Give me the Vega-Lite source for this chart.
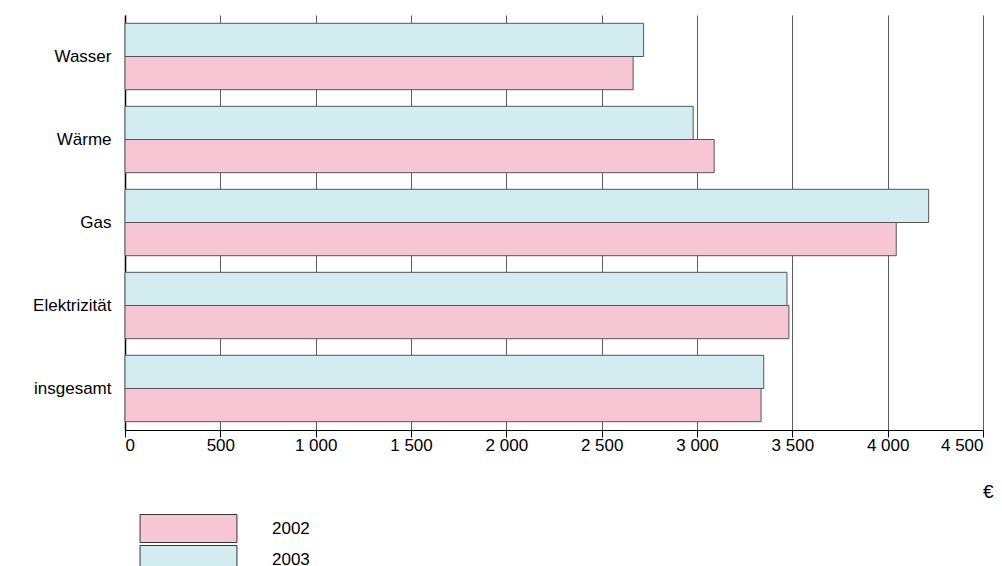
{
  "$schema": "https://vega.github.io/schema/vega-lite/v6.json",
  "width": 858, "height": 415,
  "autosize": "none",
  "padding": {"left": 125, "top": 15, "right": 19, "bottom": 136},
  "background": "white",
  "config": {"font": "Liberation Sans", "view": {"stroke": null}},
  "data": {"values": [
    {"cat": "Wasser", "year": "2003", "value": 2720},
    {"cat": "Wasser", "year": "2002", "value": 2665},
    {"cat": "Wärme", "year": "2003", "value": 2980},
    {"cat": "Wärme", "year": "2002", "value": 3090},
    {"cat": "Gas", "year": "2003", "value": 4215},
    {"cat": "Gas", "year": "2002", "value": 4045},
    {"cat": "Elektrizität", "year": "2003", "value": 3472},
    {"cat": "Elektrizität", "year": "2002", "value": 3482},
    {"cat": "insgesamt", "year": "2003", "value": 3350},
    {"cat": "insgesamt", "year": "2002", "value": 3336}
  ]},
  "mark": {"type": "bar", "stroke": "#555555", "strokeWidth": 1},
  "encoding": {
    "y": {"field": "cat", "type": "nominal", "sort": null,
      "scale": {"paddingInner": 0.2, "paddingOuter": 0.1},
      "axis": {"title": null, "labelFontSize": 17, "labelColor": "black", "domainColor": "black", "labelPadding": 14, "ticks": false, "domainWidth": 1.5}},
    "yOffset": {"field": "year", "sort": ["2003", "2002"]},
    "x": {"field": "value", "type": "quantitative",
      "scale": {"domain": [0, 4500], "nice": false},
      "axis": {"values": [0,500,1000,1500,2000,2500,3000,3500,4000,4500], "format": ",d",
        "labelExpr": "replace(datum.label, ',', ' ')",
        "grid": true, "gridColor": "#333333", "gridWidth": 0.8,
        "domainColor": "black", "tickColor": "black", "tickSize": 7, "labelFontSize": 17, "labelColor": "black", "labelPadding": 0,
        "title": "€", "titleFontSize": 19, "titleFontWeight": "normal", "titleX": 868, "titleY": 52, "titleAlign": "right"}},
    "color": {"field": "year", "type": "nominal",
      "scale": {"domain": ["2002", "2003"], "range": ["#f7c6d5", "#d3ecf0"]},
      "legend": {"orient": "none", "legendX": 49, "legendY": 499, "title": null,
        "symbolType": "M-3.46,-1H3.46V1H-3.46Z", "symbolSize": 784, "symbolStrokeColor": "#333333", "symbolStrokeWidth": 1,
        "rowPadding": -7, "labelFontSize": 17, "labelOffset": 69, "labelColor": "black", "symbolOpacity": 1}}
  }
}
